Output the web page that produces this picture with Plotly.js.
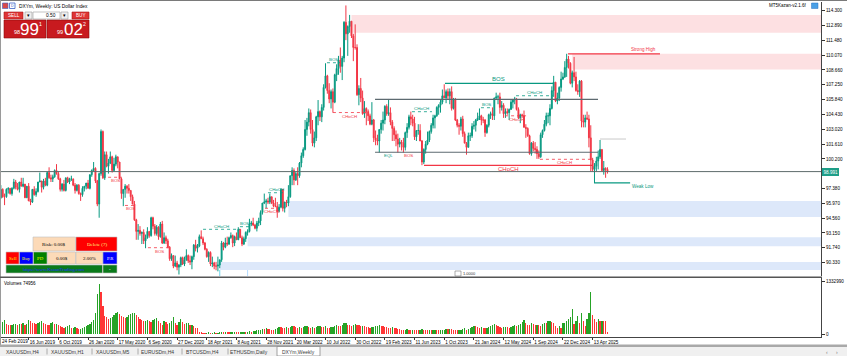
<!DOCTYPE html>
<html><head><meta charset="utf-8">
<script src="https://cdn.plot.ly/plotly-3.0.1.min.js"></script>
<style>html,body{margin:0;padding:0;background:#fff;overflow:hidden}#chart{width:847px;height:356px}</style>
</head><body><div id="chart"></div>
<script>
// ---------- DATA ----------
const symbolTitle = 'DXYm, Weekly: US Dollar Index';
const firstWeek = '2019-02-24';
const open = [
96.4,96.5,97.3,96.6,96.6,97.3,97.4,96.9,97.4,98.0,
97.5,97.3,98.0,97.6,97.8,96.5,97.6,96.2,96.1,97.3,
96.8,97.1,98.0,98.1,97.5,98.1,97.7,98.9,98.4,98.3,
98.5,99.1,98.8,98.3,97.3,97.8,97.2,98.4,98.0,98.3,
98.3,97.7,97.2,97.7,96.9,96.8,97.4,97.6,97.9,97.4,
98.7,99.1,99.3,98.1,95.9,98.8,102.8,98.4,100.6,99.5,
99.8,100.4,99.1,99.7,100.4,99.9,98.3,96.9,97.3,97.6,
97.4,97.2,96.6,95.9,94.4,93.3,93.4,93.1,93.2,92.4,
92.7,93.3,92.9,94.6,93.8,93.1,93.7,92.8,94.0,92.2,
92.7,92.4,91.8,90.7,91.0,90.0,90.3,89.9,90.1,90.8,
90.2,90.6,91.0,90.5,90.4,90.9,92.0,91.7,91.9,92.8,
92.6,92.2,91.6,90.9,91.3,90.2,90.3,90.0,90.0,90.1,
90.6,92.2,91.8,92.2,92.1,92.7,92.9,92.2,92.8,92.5,
93.5,92.7,92.1,92.6,93.2,93.3,94.0,94.1,93.9,93.6,
94.1,94.3,95.1,96.0,96.1,96.2,96.1,96.6,96.0,95.7,
95.7,95.2,95.6,97.3,95.5,96.1,96.0,96.6,98.6,99.1,
98.2,98.8,98.6,99.8,100.5,101.1,103.0,103.7,104.6,103.0,
101.7,102.2,104.2,104.7,104.2,105.1,107.0,108.1,106.7,105.9,
106.6,105.6,108.2,108.8,109.6,109.0,109.8,113.2,112.1,112.8,
113.3,111.9,110.8,110.8,106.3,106.9,106.0,104.5,105.0,104.7,
104.3,103.5,103.9,102.2,102.0,101.9,103.0,103.6,103.9,105.2,
104.5,104.6,103.7,103.1,102.5,102.1,101.6,101.8,101.7,101.3,
102.7,103.2,104.2,104.0,103.6,102.3,102.9,102.9,101.9,99.9,
101.1,101.6,102.0,102.8,103.4,104.1,104.3,105.1,105.3,105.6,
106.2,106.0,106.6,106.2,106.6,105.0,105.9,103.9,103.4,103.3,
104.0,102.6,101.7,101.3,102.4,102.4,103.3,103.4,103.9,104.1,
104.3,103.9,103.9,102.7,103.4,104.4,104.5,104.3,106.0,106.1,
106.1,105.1,105.3,104.5,104.7,104.6,104.9,105.6,105.8,105.9,
104.9,104.1,104.4,104.3,103.2,103.1,102.4,100.7,101.7,101.2,
101.1,100.7,100.4,102.5,102.9,103.5,104.3,104.3,105.0,106.7,
107.5,105.7,106.0,107.0,107.8,108.0,108.9,109.7,109.3,107.4,
108.4,108.0,106.7,106.6,107.6,103.8,103.7,104.1,104.0,102.2,
100.1,99.2,99.5,100.0,100.4,101.1,99.1,99.3,99.2];
const high = [
96.8,97.7,97.4,96.9,97.4,97.5,97.4,97.5,98.3,98.2,
97.9,98.0,98.4,98.4,97.8,97.6,97.9,96.4,97.3,97.6,
97.4,98.0,98.9,98.1,98.3,98.4,99.0,99.4,98.7,98.7,
99.2,99.7,99.0,98.4,97.9,98.2,98.4,98.5,98.4,98.6,
98.3,97.9,97.8,97.8,97.0,97.6,97.6,97.9,98.2,98.7,
99.2,99.9,99.4,98.2,98.9,103.0,102.9,100.9,100.9,100.2,
100.9,100.5,100.3,100.6,100.4,99.9,98.4,97.3,97.8,97.7,
97.8,97.2,96.8,96.2,94.5,94.0,93.8,93.3,93.5,93.0,
93.7,93.3,94.7,94.7,94.0,93.9,93.8,94.2,94.3,93.2,
92.9,92.6,91.9,91.2,91.0,91.0,90.5,90.2,90.9,90.9,
90.9,91.6,91.1,91.0,91.0,92.1,92.5,92.1,93.0,93.4,
92.8,92.3,91.7,91.4,91.4,90.9,90.4,90.4,90.9,90.6,
92.4,92.3,92.7,92.8,92.8,93.2,93.0,92.9,93.2,93.7,
93.5,92.9,92.8,93.3,93.5,94.5,94.3,94.6,94.0,94.3,
94.6,95.3,96.0,96.9,96.4,96.5,96.9,96.6,96.3,96.5,
96.1,95.9,97.4,97.3,96.1,96.3,97.7,98.6,99.4,99.3,
99.0,99.4,99.9,100.8,101.3,103.9,104.1,105.0,104.9,103.9,
102.8,104.3,105.8,104.8,105.4,107.3,109.3,108.2,107.4,106.8,
106.9,108.3,109.2,110.0,110.8,110.0,113.3,114.8,112.9,113.9,
113.3,112.1,113.0,111.1,107.2,107.9,106.7,105.7,105.1,104.9,
104.5,105.6,104.0,102.9,102.5,103.0,103.9,104.7,105.3,105.4,
105.9,105.1,103.9,103.3,102.9,102.6,102.2,102.0,102.2,102.8,
103.6,104.4,104.7,104.4,104.2,102.9,103.5,103.5,102.0,101.2,
101.9,102.8,102.9,103.6,104.4,104.4,105.2,105.4,105.8,106.8,
107.3,106.8,106.9,106.9,107.1,106.0,106.0,104.0,103.6,104.2,
104.3,102.8,101.8,102.7,102.7,103.6,103.8,104.0,104.6,105.0,
104.4,104.2,104.0,103.5,104.5,104.7,105.1,106.0,106.5,106.3,
106.5,105.7,105.5,105.0,105.0,105.0,105.8,105.9,106.1,106.0,
105.1,104.5,104.5,104.8,103.5,103.2,102.5,101.8,101.9,101.8,
101.4,101.0,102.7,103.0,103.9,104.6,104.6,105.4,107.1,108.1,
107.5,106.5,107.1,108.5,108.4,109.5,110.2,110.0,109.4,108.6,
109.9,108.5,107.3,107.7,107.7,104.4,104.4,104.7,104.4,103.4,
100.3,99.8,100.4,101.0,102.0,101.1,100.0,99.4,99.4];
const low = [
95.8,96.4,96.5,95.8,96.5,96.9,96.8,96.7,97.3,97.3,
97.2,97.0,97.6,97.5,96.5,96.5,96.2,95.8,96.0,96.7,
96.6,97.0,98.0,97.0,97.3,97.6,97.6,98.3,98.0,98.0,
98.4,98.7,98.2,97.1,97.1,97.1,97.1,97.9,97.8,98.1,
97.6,96.9,97.1,96.8,96.2,96.6,97.1,97.3,97.4,97.3,
98.5,99.0,97.9,95.7,94.6,98.6,98.3,98.2,99.4,98.8,
99.7,98.9,99.0,99.5,99.3,98.3,96.4,95.7,96.5,96.9,
96.9,96.2,95.9,94.3,92.5,92.5,92.9,92.1,92.1,91.7,
92.6,92.7,92.8,93.5,92.9,92.9,92.5,92.7,92.1,92.1,
92.1,91.7,90.5,90.5,89.8,89.9,89.6,89.2,89.9,90.1,
90.0,90.5,90.3,90.1,89.7,90.6,91.4,91.3,91.8,92.6,
92.0,91.5,90.8,90.4,90.0,89.9,89.7,89.6,89.5,89.8,
90.4,91.5,91.7,91.9,92.0,92.6,91.8,91.9,92.5,92.5,
92.7,91.9,92.0,92.3,92.9,93.2,93.8,93.8,93.5,93.3,
93.8,93.9,94.9,95.9,95.5,95.9,95.9,95.9,95.6,95.6,
94.6,95.1,95.5,95.2,95.1,95.6,95.7,96.5,97.7,97.7,
98.1,97.7,98.4,99.4,100.3,101.0,102.4,103.3,102.6,101.4,
101.3,101.9,103.4,103.8,103.7,104.8,106.9,106.4,105.5,105.0,
104.6,105.5,107.6,108.2,108.4,107.7,109.4,111.5,110.0,112.2,
111.7,109.5,110.6,106.2,105.3,105.6,104.4,104.1,103.4,103.8,
103.4,103.4,101.8,101.5,101.5,100.8,102.6,102.9,103.5,104.3,
104.3,103.4,101.9,101.9,101.4,100.8,101.3,101.0,100.8,101.0,
102.2,103.0,103.4,103.3,102.0,101.9,102.5,101.9,99.6,99.7,
100.7,101.5,101.8,102.6,103.1,103.1,104.2,104.4,104.6,105.4,
106.0,105.5,105.9,105.4,104.8,104.9,103.8,103.2,102.5,102.9,
102.3,101.7,100.6,101.3,101.9,102.2,103.0,102.8,103.8,103.9,
103.4,103.6,102.3,102.6,103.2,104.0,103.9,103.9,105.8,105.4,
104.5,104.8,104.1,104.1,104.4,103.9,104.9,105.0,105.4,104.8,
104.0,103.6,104.1,103.2,102.2,102.3,100.6,100.5,100.9,100.7,
100.2,100.2,100.3,102.2,102.8,103.3,103.6,103.4,104.9,106.1,
105.6,105.4,105.7,106.6,107.7,107.9,108.0,108.8,107.3,107.0,
107.6,106.6,106.3,106.1,103.2,103.2,103.2,103.9,101.3,99.0,
99.0,97.9,99.0,99.2,100.2,99.0,98.7,98.4,98.8];
const close = [
96.5,97.3,96.6,96.6,97.3,97.4,96.9,97.4,98.0,97.5,
97.3,98.0,97.6,97.8,96.5,97.6,96.2,96.1,97.3,96.8,
97.1,98.0,98.1,97.5,98.1,97.7,98.9,98.4,98.3,98.5,
99.1,98.8,98.3,97.3,97.8,97.2,98.4,98.0,98.3,98.3,
97.7,97.2,97.7,96.9,96.8,97.4,97.6,97.9,97.4,98.7,
99.1,99.3,98.1,95.9,98.8,102.8,98.4,100.6,99.5,99.8,
100.4,99.1,99.7,100.4,99.9,98.3,96.9,97.3,97.6,97.4,
97.2,96.6,95.9,94.4,93.3,93.4,93.1,93.2,92.4,92.7,
93.3,92.9,94.6,93.8,93.1,93.7,92.8,94.0,92.2,92.7,
92.4,91.8,90.7,91.0,90.0,90.3,89.9,90.1,90.8,90.2,
90.6,91.0,90.5,90.4,90.9,92.0,91.7,91.9,92.8,92.6,
92.2,91.6,90.9,91.3,90.2,90.3,90.0,90.0,90.1,90.6,
92.2,91.8,92.2,92.1,92.7,92.9,92.2,92.8,92.5,93.5,
92.7,92.1,92.6,93.2,93.3,94.0,94.1,93.9,93.6,94.1,
94.3,95.1,96.0,96.1,96.2,96.1,96.6,96.0,95.7,95.7,
95.2,95.6,97.3,95.5,96.1,96.0,96.6,98.6,99.1,98.2,
98.8,98.6,99.8,100.5,101.1,103.0,103.7,104.6,103.0,101.7,
102.2,104.2,104.7,104.2,105.1,107.0,108.1,106.7,105.9,106.6,
105.6,108.2,108.8,109.6,109.0,109.8,113.2,112.1,112.8,113.3,
111.9,110.8,110.8,106.3,106.9,106.0,104.5,105.0,104.7,104.3,
103.5,103.9,102.2,102.0,101.9,103.0,103.6,103.9,105.2,104.5,
104.6,103.7,103.1,102.5,102.1,101.6,101.8,101.7,101.3,102.7,
103.2,104.2,104.0,103.6,102.3,102.9,102.9,101.9,99.9,101.1,
101.6,102.0,102.8,103.4,104.1,104.3,105.1,105.3,105.6,106.2,
106.0,106.6,106.2,106.6,105.0,105.9,103.9,103.4,103.3,104.0,
102.6,101.7,101.3,102.4,102.4,103.3,103.4,103.9,104.1,104.3,
103.9,103.9,102.7,103.4,104.4,104.5,104.3,106.0,106.1,106.1,
105.1,105.3,104.5,104.7,104.6,104.9,105.6,105.8,105.9,104.9,
104.1,104.4,104.3,103.2,103.1,102.4,100.7,101.7,101.2,101.1,
100.7,100.4,102.5,102.9,103.5,104.3,104.3,105.0,106.7,107.5,
105.7,106.0,107.0,107.8,108.0,108.9,109.7,109.3,107.4,108.4,
108.0,106.7,106.6,107.6,103.8,103.7,104.1,104.0,102.2,100.1,
99.2,99.5,100.0,100.4,101.1,99.1,99.3,99.2,98.99];
const volume = [
290000,270000,310000,350000,260000,230000,220000,240000,250000,260000,
230000,260000,250000,270000,240000,250000,350000,320000,290000,270000,
260000,280000,300000,320000,290000,260000,240000,230000,270000,300000,
250000,260000,230000,200000,180000,160000,170000,190000,220000,150000,
160000,180000,150000,120000,130000,160000,170000,200000,220000,260000,
300000,350000,520000,1000000,1270000,1050000,700000,460000,420000,380000,
400000,430000,470000,520000,550000,510000,460000,420000,400000,440000,
470000,500000,520000,530000,480000,420000,380000,350000,330000,340000,
360000,320000,300000,350000,380000,410000,320000,290000,240000,330000,
300000,260000,270000,320000,420000,280000,240000,310000,380000,300000,
260000,280000,290000,230000,240000,210000,160000,140000,60000,40000,
30000,30000,35000,40000,30000,35000,40000,30000,35000,40000,
45000,40000,50000,45000,40000,45000,50000,55000,50000,45000,
50000,55000,60000,55000,60000,65000,60000,70000,80000,90000,
100000,110000,130000,120000,140000,130000,120000,110000,100000,130000,
150000,180000,170000,160000,150000,170000,160000,180000,200000,190000,
170000,160000,180000,150000,170000,190000,200000,180000,160000,170000,
150000,170000,190000,200000,180000,170000,190000,160000,150000,170000,
180000,200000,220000,210000,200000,240000,270000,280000,240000,220000,
210000,220000,250000,240000,220000,200000,210000,190000,180000,170000,
160000,170000,180000,200000,210000,220000,200000,190000,180000,170000,
160000,150000,170000,160000,140000,130000,120000,110000,100000,110000,
120000,110000,100000,110000,100000,95000,90000,100000,120000,110000,
100000,95000,110000,100000,105000,110000,100000,90000,95000,100000,
110000,120000,115000,130000,120000,110000,100000,95000,100000,110000,
120000,140000,100000,130000,150000,180000,200000,190000,170000,160000,
180000,150000,140000,160000,170000,200000,230000,260000,240000,200000,
180000,160000,170000,180000,170000,160000,180000,200000,220000,200000,
230000,260000,300000,360000,280000,240000,230000,270000,250000,220000,
240000,230000,200000,260000,280000,270000,320000,340000,300000,280000,
200000,150000,200000,150000,280000,290000,320000,380000,420000,620000,
260000,330000,450000,280000,520000,330000,200000,380000,520000,1060000,
480000,370000,300000,370000,320000,340000,330000,320000,60000];
const priceTicks = [114.3,112.89,111.48,110.07,108.66,107.25,105.84,104.43,103.02,101.61,100.2,97.38,95.97,94.56,93.15,91.74,90.33];
const volumeTicks = [0, 1332990];
const dateTickLabels = ['24 Feb 2019','16 Jun 2019','6 Oct 2019','26 Jan 2020','17 May 2020','6 Sep 2020','27 Dec 2020','18 Apr 2021','8 Aug 2021','28 Nov 2021','20 Mar 2022','10 Jul 2022','30 Oct 2022','19 Feb 2023','11 Jun 2023','1 Oct 2023','21 Jan 2024','12 May 2024','1 Sep 2024','22 Dec 2024','13 Apr 2025'];
const bid = 98.991, ask = 99.022;
const volumeNow = 74956;
const shiftMarkerText = '1.0000';
// zones: [startWeek, top, bottom]
const supplyZones = [[190,113.9,112.2],[309,110.2,108.7]];
const demandZones = [[156,96.19,94.67],[134,92.75,91.89],[119,90.39,89.63]];
// solid structure levels: [fromWeek, toWeek, price, kind, label, labelWeek, side]
const structureLevels = [
 [202.7,322.9,105.87,'grey','',0,''],
 [202.7,322.9,100.83,'grey','',0,''],
 [240.4,298.7,107.39,'bull','BOS',269.5,'above'],
 [229.1,320.2,99.59,'bear','CHoCH',274.6,'below'],
 [306.7,356.3,110.2,'bear','Strong High',347.2,'above'],
 [320.8,340.2,97.91,'bull','Weak Low',347.2,'below'],
 [324.0,338.0,102.09,'light','',0,'']
];
// dotted breaks: [fromWeek, toWeek, price, kind, label, side]
const breakLines = [
 [176.8,183.8,109.35,'bull','BOS','above'],
 [180.0,198.4,104.61,'bear','CHoCH','below'],
 [222.6,233.4,104.69,'bull','CHoCH','above'],
 [259.8,266.3,105.07,'bull','BOS','above'],
 [278.7,298.6,106.21,'bull','CHoCH','above'],
 [272.8,285.0,104.30,'bear','CHoCH','below'],
 [291.6,318.6,100.16,'bear','CHoCH','below'],
 [145.0,154.2,96.98,'bull','CHoCH','above'],
 [143.4,150.4,95.50,'bear','CHoCH','below'],
 [129.9,135.3,93.75,'bull','BOS','above'],
 [110.0,129.9,93.50,'bull','CHoCH','above'],
 [80.3,92.2,91.75,'bear','BOS','below'],
 [67.9,74.4,95.77,'bear','BOS','below'],
 [58.8,66.3,98.45,'bear','BOS','below']
];
// free labels: [week, price, text, kind]
const freeLabels = [[210.2,100.55,'EQL','bull'],[221.0,100.55,'BOS','bear']];
const tabs = ['XAUUSDm,H4','XAUUSDm,H1','XAUUSDm,M5','EURUSDm,H4','BTCUSDm,H4','ETHUSDm,Daily','DXYm,Weekly'];

// ---------- HELPERS ----------
const DAY = 86400000;
const base = Date.parse(firstWeek + 'T00:00:00Z');
function wd(w){ return new Date(base + w*7*DAY).toISOString().slice(0,19).replace('T',' '); }
const dates = close.map((_, i) => wd(i));
const W = 847, H = 356, ML = 1, MR = 26, MT = 2, MB = 19;
const PW = W - ML - MR, PH = H - MT - MB;
const px = x => (x - ML) / PW;
const py = y => (H - MB - y) / PH;
const FONT = 'Liberation Sans, Arial, sans-serif';
const SERIF = 'Liberation Serif, Times New Roman, serif';
const COL = {bull:'#089981', bear:'#f23645', grey:'#5d6a70', light:'#c9c9c9'};
const xStart = wd(1.08), xEnd = wd(443.1);

const shapes = [], annotations = [];
function rect(x0,y0,x1,y1,fill,line,lw){ shapes.push({type:'rect',xref:'paper',yref:'paper',x0:px(x0),x1:px(x1),y0:py(y1),y1:py(y0),fillcolor:fill,line:{color:line||fill,width:lw===undefined?0.6:lw},layer:'above'}); }
function pline(x0,y0,x1,y1,color,w){ shapes.push({type:'line',xref:'paper',yref:'paper',x0:px(x0),x1:px(x1),y0:py(y0),y1:py(y1),line:{color:color,width:w||1},layer:'above'}); }
function text(x,y,t,size,color,anchor,family){ annotations.push({xref:'paper',yref:'paper',x:px(x),y:py(y),text:t,showarrow:false,xanchor:anchor||'center',yanchor:'middle',font:{size:size,color:color,family:family||FONT},borderpad:0}); }

// zones
supplyZones.forEach(z => shapes.push({type:'rect',xref:'x',yref:'y',x0:wd(z[0]),x1:xEnd,y0:z[2],y1:z[1],fillcolor:'#fde0e2',line:{width:0},layer:'below'}));
demandZones.forEach(z => shapes.push({type:'rect',xref:'x',yref:'y',x0:wd(z[0]),x1:xEnd,y0:z[2],y1:z[1],fillcolor:'#dde8fa',line:{width:0},layer:'below'}));
// zone edge markers at the bottom of the price pane
demandZones.slice(1).forEach((z,i) => shapes.push({type:'line',xref:'x',yref:'paper',x0:wd(z[0]),x1:wd(z[0]),y0:py(276),y1:py(270),line:{color:i===0?'#9fd3ff':'#47c8e8',width:0.8},layer:'above'}));
// bid line
shapes.push({type:'line',xref:'paper',yref:'y',x0:0,x1:1,y0:bid,y1:bid,line:{color:'#5d6a6a',width:1},layer:'above'});
// structure levels
structureLevels.forEach(s => {
  shapes.push({type:'line',xref:'x',yref:'y',x0:wd(s[0]),x1:wd(s[1]),y0:s[2],y1:s[2],line:{color:COL[s[3]],width:s[3]==='light'?1:1.2},layer:'above'});
  if (s[4]) {
    const big = (s[4]==='BOS'||s[4]==='CHoCH');
    annotations.push({xref:'x',yref:'y',x:wd(s[5]),y:s[2],text:s[4],showarrow:false,yshift:s[6]==='above'?4:-4,font:{size:big?6:4.6,color:COL[s[3]],family:FONT}});
  }
});
breakLines.forEach(b => {
  shapes.push({type:'line',xref:'x',yref:'y',x0:wd(b[0]),x1:wd(b[1]),y0:b[2],y1:b[2],line:{color:COL[b[3]],width:0.8,dash:'dot'},layer:'above'});
  annotations.push({xref:'x',yref:'y',x:wd((b[0]+b[1])/2),y:b[2],text:b[4],showarrow:false,yshift:b[5]==='above'?3:-3.5,font:{size:4.4,color:COL[b[3]],family:FONT}});
});
freeLabels.forEach(f => annotations.push({xref:'x',yref:'y',x:wd(f[0]),y:f[1],text:f[2],showarrow:false,font:{size:4.4,color:COL[f[3]],family:FONT}}));

// price label on axis
annotations.push({xref:'paper',yref:'y',x:px(822.5),y:bid,text:bid.toFixed(3),showarrow:false,xanchor:'left',yanchor:'middle',bgcolor:'#1e9e88',bordercolor:'#1e9e88',borderpad:0.5,font:{size:4.6,color:'#fff',family:FONT}});
// first date label (left edge)
annotations.push({xref:'paper',yref:'paper',x:px(-0.5),y:py(341.5),text:dateTickLabels[0],showarrow:false,xanchor:'left',yanchor:'middle',font:{size:4.6,color:'#000',family:FONT}});
// chart shift marker
rect(455,271,461,276,'#ffffff','#777',0.6);
text(462,273.5,shiftMarkerText,4,'#333','left');

// frames
pline(0,0.5,W,0.5,'#7a7a7a',1);
pline(0.5,0,0.5,345,'#9a9a9a',1);
pline(0,277.3,822,277.3,'#555',1.6);
// title
rect(2.5,3,8,8.5,'#d94a4a','#3a62c8',0.6);
rect(9.5,3,15,8.5,'#ffffff','#3a62c8',0.8);
text(12.2,5.8,'D',3.6,'#3a62c8');
text(18,6,symbolTitle,4.8,'#000','left');
text(808,5.5,'MT5Kazan-v2.1.6f',4.5,'#000','right');
rect(811.5,3,818,8.5,'#4aa0e6','#2a70c0',0.5);
// one-click trading panel
rect(4,12,23,19,'#df3434','#a81818');
text(13.5,15.6,'SELL',4.6,'#fff');
rect(25,12,32,19,'#efefef','#9a9a9a');
text(28.5,15.6,'▾',4.6,'#000');
rect(33,12,60,19,'#ffffff','#9a9a9a');
text(51,15.6,'0.50',4.8,'#000');
rect(61,12,68,19,'#efefef','#9a9a9a');
text(64.5,15.6,'▾',4.6,'#000');
rect(72,12,89,19,'#df3434','#a81818');
text(80.5,15.6,'BUY',4.6,'#fff');
rect(4,20,46,38,'#c81a1f','#8c0a0a');
rect(47,20,89,38,'#c81a1f','#8c0a0a');
const bidStr = bid.toFixed(3), askStr = ask.toFixed(3);
text(16.5,32,bidStr.slice(0,2),5.5,'#fff');
text(29.5,29.5,bidStr.slice(3,5),17,'#fff');
text(40.5,24.5,bidStr.slice(5),5.2,'#fff');
text(60,32,askStr.slice(0,2),5.5,'#fff');
text(73.5,29.5,askStr.slice(3,5),17,'#fff');
text(84.5,24.5,askStr.slice(5),5.2,'#fff');
// trade manager panel
rect(33,237,75.5,251,'#fcdab8','#c0c0c0');
text(54,244,'Risk: 0.00$',5,'#000','center',SERIF);
rect(76,237,117,251,'#ff0000','#c0c0c0');
text(96.5,244,'Delete (7)',5,'#ffff80','center',SERIF);
rect(6,252,19,264,'#ff0000','#c0c0c0');
text(12.5,258,'Sell',4.8,'#ffff00','center',SERIF);
rect(19.5,252,33,264,'#0000ff','#c0c0c0');
text(26.2,258,'Buy',4.8,'#ffff00','center',SERIF);
rect(33.5,252,47,264,'#008000','#c0c0c0');
text(40.2,258,'PD',4.8,'#ffff00','center',SERIF);
rect(47.5,252,75.5,264,'#fcdab8','#c0c0c0');
text(61.5,258,'0.00$',5,'#000','center',SERIF);
rect(76,252,102.5,264,'#fcdab8','#c0c0c0');
text(89.2,258,'2.00%',5,'#000','center',SERIF);
rect(103,252,117,264,'#0000ff','#c0c0c0');
text(110,258,'P.R',4.8,'#ffffff','center',SERIF);
rect(6,265,102.5,273,'#0a7a1a','#c0c0c0');
text(54,269,'https://www.KazanTrading.com',4.8,'#1a2cff','center',SERIF);
rect(103,265,117,273,'#0a7a1a','#c0c0c0');
text(110,269,'-',4.8,'#fff');
// volume label
text(3,283.5,'Volumes ' + volumeNow,4.6,'#000','left');
// tabs
rect(0,344.5,W,347,'#a9a9a9','#a9a9a9',0);
rect(0,347,W,356,'#f0f0f0','#f0f0f0',0);
const tabX = [22,67,113,157,202,249,298.5];
const sepX = [47,92,138,182,228];
tabs.forEach((t,i) => {
  if (i === tabs.length-1) rect(277,346.5,320,356,'#ffffff','#8a8a8a',0.8);
  text(tabX[i],351.5,t,5,'#3a3a3a');
});
sepX.forEach(x => pline(x,348.5,x,354.5,'#9a9a9a',0.8));
text(827,351.5,'‹',5,'#777');
text(837,351.5,'›',5,'#777');

// ---------- TRACES ----------
const volColors = volume.map((v,i) => (i === 0 || v > volume[i-1]) ? '#26a326' : '#ff3535');
const traces = [
 {type:'candlestick',x:dates,open:open,high:high,low:low,close:close,xaxis:'x',yaxis:'y',
  increasing:{line:{color:'#089981',width:1},fillcolor:'#089981'},
  decreasing:{line:{color:'#f23645',width:1},fillcolor:'#f23645'},
  whiskerwidth:0,hoverinfo:'skip',showlegend:false},
 {type:'bar',x:dates,y:volume,xaxis:'x',yaxis:'y2',marker:{color:volColors,line:{width:0}},width:7*DAY*0.68,hoverinfo:'skip',showlegend:false}
];

const tickDates = dateTickLabels.map((_, i) => wd(16*i));
const layout = {
  width:W,height:H,margin:{l:ML,r:MR,t:MT,b:MB,pad:0},
  paper_bgcolor:'#ffffff',plot_bgcolor:'#ffffff',showlegend:false,
  font:{family:FONT,size:4.6,color:'#000'},
  xaxis:{type:'date',anchor:'y2',domain:[0,1],range:[xStart,xEnd],rangeslider:{visible:false},
    tickvals:tickDates,ticktext:dateTickLabels,ticklabelposition:'outside right',tickangle:0,
    ticks:'outside',ticklen:2,tickcolor:'#333',tickfont:{size:4.6,family:FONT,color:'#000'},
    showgrid:false,zeroline:false,showline:true,linecolor:'#444',linewidth:1,fixedrange:true},
  yaxis:{domain:[py(276),1],anchor:'x',side:'right',range:[89.057,115.128],
    tickvals:priceTicks,tickformat:'.3f',ticks:'outside',ticklen:3,tickcolor:'#333',
    tickfont:{size:4.6,family:FONT,color:'#000'},showgrid:false,zeroline:false,showline:true,linecolor:'#444',linewidth:1,fixedrange:true},
  yaxis2:{domain:[0,py(278.3)],anchor:'x',side:'right',range:[-75450,1408440],
    tickvals:volumeTicks,ticktext:volumeTicks.map(String),ticks:'outside',ticklen:3,tickcolor:'#333',
    tickfont:{size:4.6,family:FONT,color:'#000'},showgrid:false,zeroline:false,showline:true,linecolor:'#444',linewidth:1,fixedrange:true},
  bargap:0,shapes:shapes,annotations:annotations
};
Plotly.newPlot('chart',traces,layout,{staticPlot:true,displayModeBar:false});
</script></body></html>
